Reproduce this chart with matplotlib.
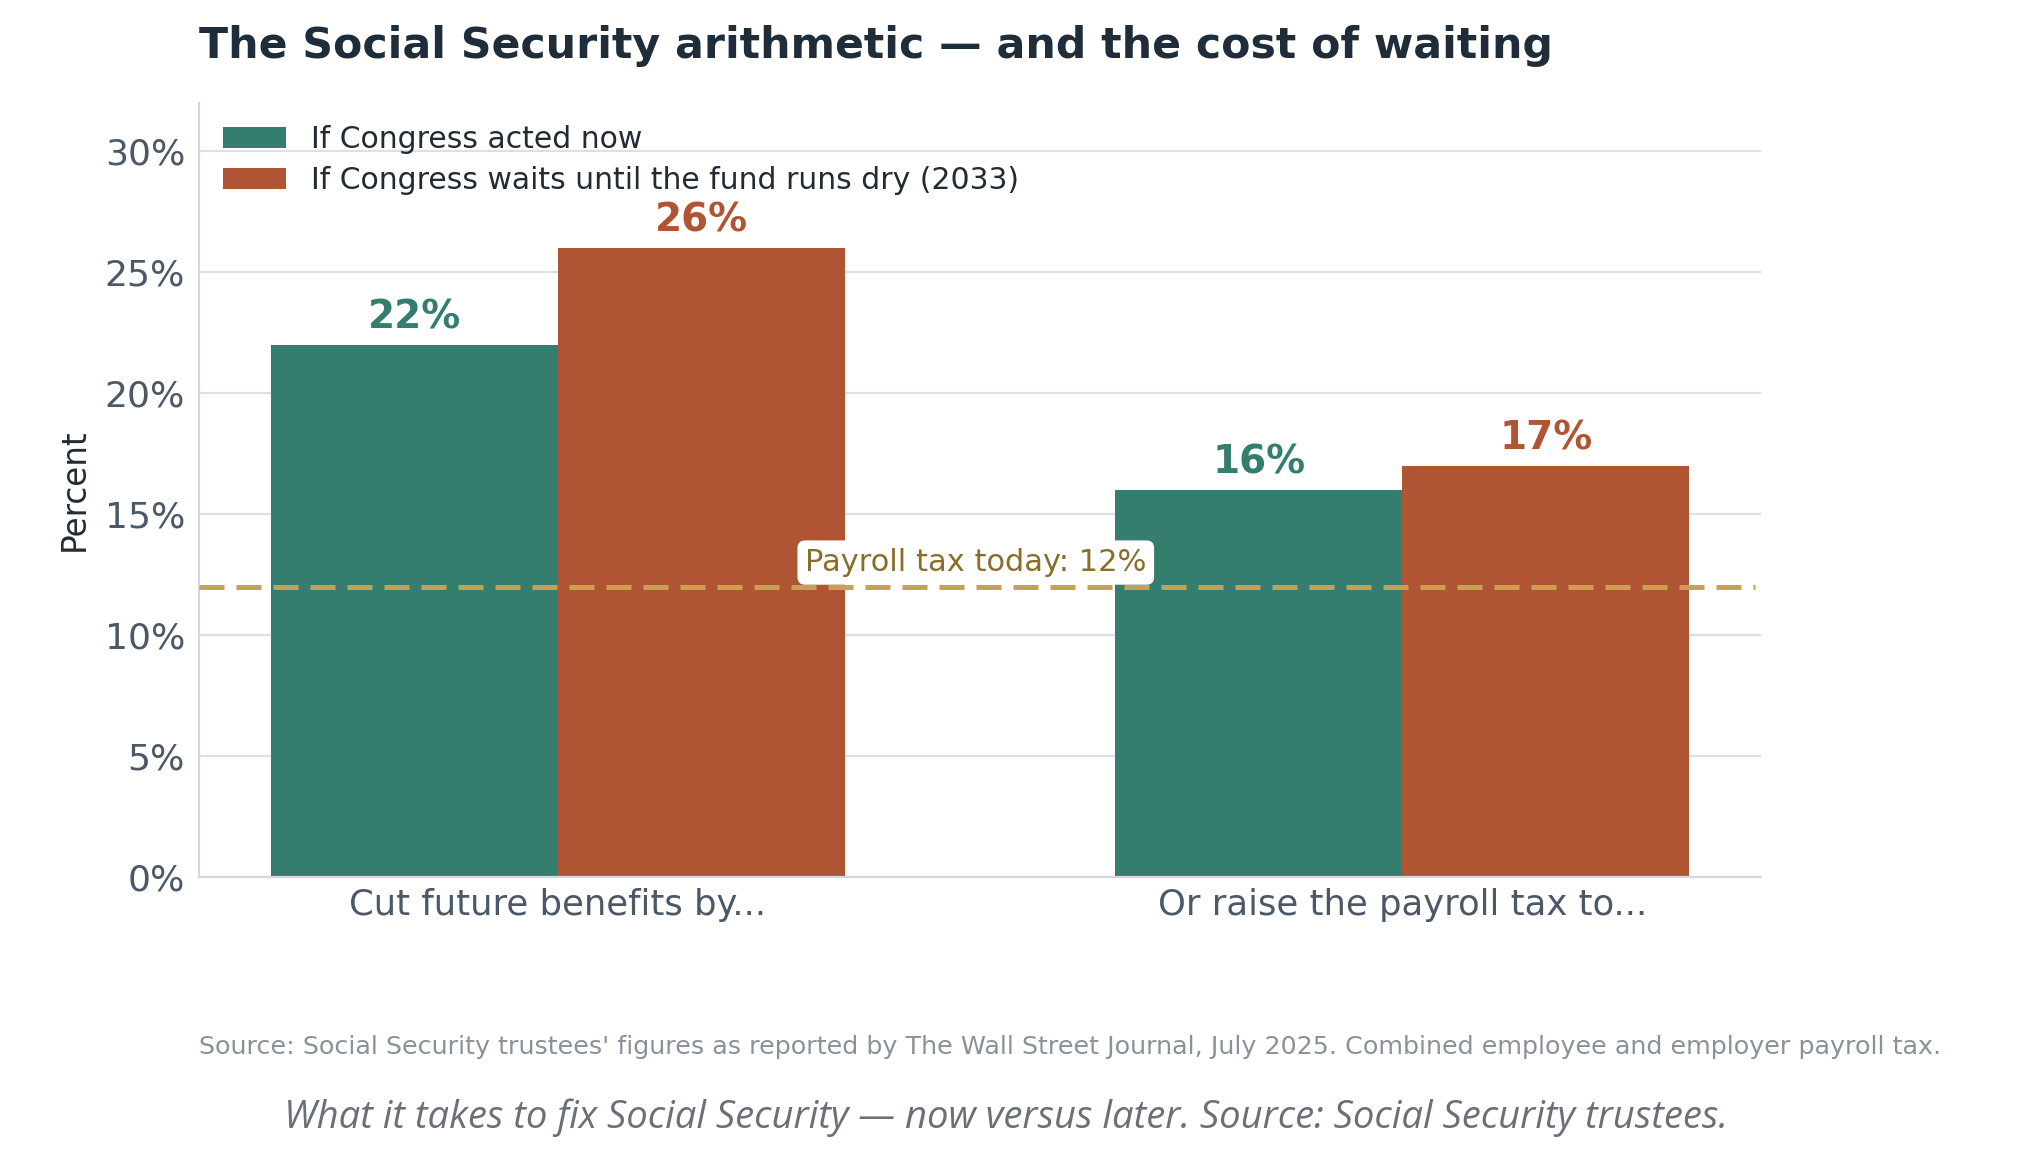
import numpy as np
import matplotlib
matplotlib.use("Agg")
import matplotlib.pyplot as plt
from matplotlib.ticker import FuncFormatter

# data
categories = ["Cut future benefits by...", "Or raise the payroll tax to..."]
acted_now = [22, 16]
waits = [26, 17]
series_names = ["If Congress acted now", "If Congress waits until the fund runs dry (2033)"]
payroll_today = 12

GREEN = "#347d6f"
ORANGE = "#b05533"
GOLD = "#c9a04f"
TICK = "#4a5868"

fig = plt.figure(figsize=(20.24, 11.68), dpi=100)
ax = fig.add_axes([199 / 2024, 1 - 877 / 1168, (1761 - 199) / 2024, (877 - 103) / 1168])

x = np.arange(len(categories))
w = 0.34
b1 = ax.bar(x - w / 2, acted_now, w, color=GREEN, label=series_names[0], zorder=2)
b2 = ax.bar(x + w / 2, waits, w, color=ORANGE, label=series_names[1], zorder=2)

for bars, col in [(b1, GREEN), (b2, ORANGE)]:
    for r in bars:
        ax.text(r.get_x() + r.get_width() / 2, r.get_height() + 0.35, f"{r.get_height():.0f}%",
                ha="center", va="bottom", fontsize=28, fontweight="bold", color=col, zorder=4)

ax.axhline(payroll_today, color=GOLD, lw=3.6, dashes=(5, 2.4), xmax=0.996, zorder=3)
ax.text(0.495, payroll_today + 1.0, f"Payroll tax today: {payroll_today}%", ha="center", va="center",
        fontsize=22, color="#8a6d2a", zorder=5,
        bbox=dict(boxstyle="round,pad=0.25", fc="white", ec="none"))

ax.set_xlim(-0.425, 1.425)
ax.set_ylim(0, 32)
ax.set_yticks(range(0, 31, 5))
ax.yaxis.set_major_formatter(FuncFormatter(lambda v, p: f"{v:.0f}%"))
ax.set_xticks(x)
ax.set_xticklabels(categories)
ax.tick_params(axis="y", length=0, labelsize=26, labelcolor=TICK, pad=10)
ax.tick_params(axis="x", length=0, labelsize=25.5, labelcolor=TICK, pad=8)
ax.grid(axis="y", color="#dcdfe3", lw=1.6, zorder=0)
ax.set_axisbelow(True)
for s in ["top", "right"]:
    ax.spines[s].set_visible(False)
for s in ["left", "bottom"]:
    ax.spines[s].set_color("#d5d8dc")
    ax.spines[s].set_linewidth(1.6)

ax.set_ylabel("Percent", fontsize=23.5, color="#222b33", labelpad=10)

leg = ax.legend(loc="upper left", bbox_to_anchor=(0.001, 1.0), frameon=False, fontsize=21.5,
                handlelength=2.1, handleheight=0.7, labelspacing=0.4, handletextpad=0.85,
                borderaxespad=0.35)
for t in leg.get_texts():
    t.set_color("#222b33")

fig.text(199 / 2024, 1 - 46 / 1168, "The Social Security arithmetic \u2014 and the cost of waiting",
         fontsize=30.7, fontweight="bold", color="#1f2d3a", ha="left", va="center")
fig.text(199 / 2024, 1 - 1047 / 1168,
         "Source: Social Security trustees' figures as reported by The Wall Street Journal, July 2025. "
         "Combined employee and employer payroll tax.",
         fontsize=18.3, color="#8a9199", ha="left", va="center")
fig.text(0.497, 1 - 1118 / 1168,
         "What it takes to fix Social Security \u2014 now versus later. Source: Social Security trustees.",
         fontsize=27.5, style="italic", family=["Open Sans", "DejaVu Sans"], color="#6b7078",
         ha="center", va="center")

fig.savefig("out.png", dpi=100, facecolor="white")
